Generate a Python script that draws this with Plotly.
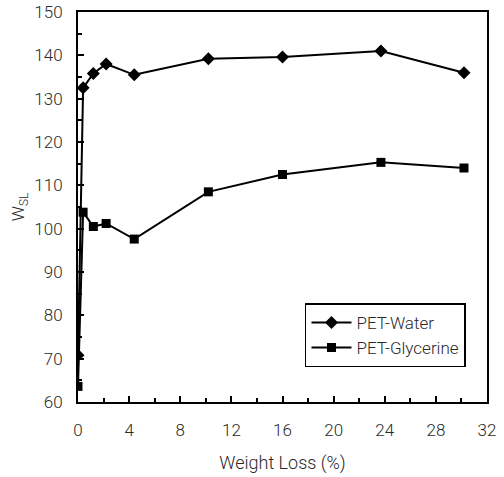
import plotly.graph_objects as go

weight_loss = [0, 0.4, 1.2, 2.2, 4.4, 10.2, 16.0, 23.7, 30.2]
pet_water = [70.8, 132.5, 135.8, 138.0, 135.5, 139.2, 139.6, 141.0, 136.0]
pet_glycerine = [63.6, 103.8, 100.5, 101.2, 97.6, 108.5, 112.5, 115.3, 114.0]

x_ticks = [0, 4, 8, 12, 16, 20, 24, 28, 32]
y_ticks = [60, 70, 80, 90, 100, 110, 120, 130, 140, 150]

FONT = "Roboto"
TXT = "#2a2a2a"

fig = go.Figure()
fig.add_trace(go.Scatter(
    x=weight_loss, y=pet_water, name="PET-Water", mode="lines+markers",
    line=dict(color="black", width=2),
    marker=dict(symbol="diamond", size=10, color="black"),
))
fig.add_trace(go.Scatter(
    x=weight_loss, y=pet_glycerine, name="PET-Glycerine", mode="lines+markers",
    line=dict(color="black", width=2),
    marker=dict(symbol="square", size=9, color="black"),
))

fig.update_layout(
    width=504, height=477,
    margin=dict(l=78, r=17, t=12, b=75),
    paper_bgcolor="white", plot_bgcolor="white",
    font=dict(family=FONT, size=17, color=TXT, weight=300),
    showlegend=True,
    legend=dict(
        x=0.555, y=0.253, xanchor="left", yanchor="top",
        bordercolor="black", borderwidth=1.5, bgcolor="white",
        font=dict(family=FONT, size=17, color=TXT, weight=300),
        tracegroupgap=0, itemwidth=40,
    ),
)
fig.update_xaxes(
    range=[0, 32], tickvals=x_ticks, ticktext=[str(v) for v in x_ticks],
    ticks="inside", ticklen=6, tickcolor="black", tickwidth=1.5,
    minor=dict(dtick=2, ticks="inside", ticklen=4, tickcolor="black", tickwidth=1.5),
    showline=True, linecolor="black", linewidth=2, mirror=True,
    showgrid=False, zeroline=False, automargin=False,
    ticklabelstandoff=12,
    title=dict(text="Weight Loss (%)", font=dict(size=18), standoff=17),
)
fig.update_yaxes(
    range=[60, 150], tickvals=y_ticks, ticktext=[str(v) for v in y_ticks],
    ticks="inside", ticklen=6, tickcolor="black", tickwidth=1.5,
    minor=dict(dtick=5, ticks="inside", ticklen=4, tickcolor="black", tickwidth=1.5),
    showline=True, linecolor="black", linewidth=2, mirror=True,
    showgrid=False, zeroline=False, automargin=False,
    ticklabelstandoff=10,
    title=dict(text="W<sub>SL</sub>", font=dict(size=17), standoff=5),
)

fig.write_html(
    "out.html",
    config={"displayModeBar": False},
    post_script="document.body.style.margin='0';",
)
